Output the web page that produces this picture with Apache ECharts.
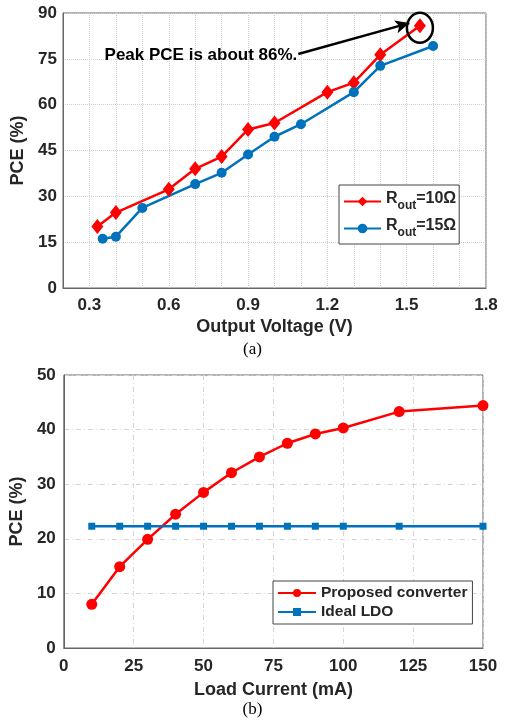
<!DOCTYPE html>
<html><head><meta charset="utf-8">
<script src="https://cdn.jsdelivr.net/npm/echarts@6/dist/echarts.min.js"></script>
<style>html,body{margin:0;padding:0;background:#fff}#c{width:505px;height:723px}</style>
</head><body><div id="c"></div>
<script>
// ---- Data: panel (a) ----
const aX10 = [0.33, 0.4, 0.6, 0.7, 0.8, 0.9, 1.0, 1.2, 1.3, 1.4, 1.55];
const aY10 = [20.1, 24.7, 32.3, 39.0, 43.0, 51.9, 54.0, 64.1, 67.2, 76.3, 85.8];
const aX15 = [0.35, 0.4, 0.5, 0.7, 0.8, 0.9, 1.0, 1.1, 1.3, 1.4, 1.6];
const aY15 = [16.1, 16.8, 26.2, 34.0, 37.7, 43.7, 49.5, 53.6, 64.1, 72.7, 79.2];
const aLegend = ['R_out=10Ω', 'R_out=15Ω'];
const aNote = 'Peak PCE is about 86%.';
const aArrowFrom = [1.09, 76.6];
const aArrowTo = [1.51, 86.7];
// ---- Data: panel (b) ----
const bX = [10, 20, 30, 40, 50, 60, 70, 80, 90, 100, 120, 150];
const bConv = [8.0, 14.9, 19.9, 24.5, 28.5, 32.1, 35.0, 37.5, 39.2, 40.3, 43.3, 44.4];
const bLDO = [22.3, 22.3, 22.3, 22.3, 22.3, 22.3, 22.3, 22.3, 22.3, 22.3, 22.3, 22.3];
const bLegend = ['Proposed converter', 'Ideal LDO'];

const RED = '#ff0000', BLUE = '#0072bd';
const FONT = 'Liberation Sans, Arial, sans-serif';
const TXT = '#262626';
const pair = (xs, ys) => xs.map((x, i) => [x, ys[i]]);

const chart = echarts.init(document.getElementById('c'), null, {renderer: 'canvas'});

const labelStyle = {color: TXT, fontFamily: FONT, fontWeight: 'bold', fontSize: 17};
const nameStyle = {color: TXT, fontFamily: FONT, fontWeight: 'bold', fontSize: 18};

const option = {
  animation: false,
  backgroundColor: '#fff',
  grid: [
    {left: 63, top: 13, width: 423, height: 275, show: true, borderColor: '#666', borderWidth: 1, backgroundColor: '#fff'},
    {left: 63, top: 375, width: 420, height: 273, show: true, borderColor: '#666', borderWidth: 1, backgroundColor: '#fff'}
  ],
  xAxis: [
    {gridIndex: 0, type: 'value', min: 0.2, max: 1.8, interval: 0.1,
      name: 'Output Voltage (V)', nameLocation: 'middle', nameGap: 30, nameTextStyle: nameStyle,
      axisLine: {show: true, lineStyle: {color: '#666'}}, axisTick: {show: false},
      axisLabel: Object.assign({margin: 9, formatter: v => {const n = Math.round(v * 10); return n % 3 === 0 ? (n / 10).toFixed(1) : '';}}, labelStyle),
      splitLine: {show: true, lineStyle: {color: '#cfcfcf', type: 'dotted', width: 1}}},
    {gridIndex: 1, type: 'value', min: 0, max: 150, interval: 25,
      name: 'Load Current (mA)', nameLocation: 'middle', nameGap: 33, nameTextStyle: nameStyle,
      axisLine: {show: true, lineStyle: {color: '#666'}}, axisTick: {show: false},
      axisLabel: Object.assign({margin: 10}, labelStyle),
      splitLine: {show: true, lineStyle: {color: '#d6d6d6', type: [5, 3, 1, 3], width: 1}}}
  ],
  yAxis: [
    {gridIndex: 0, type: 'value', min: 0, max: 90, interval: 15,
      name: 'PCE (%)', nameLocation: 'middle', nameGap: 32, nameTextStyle: nameStyle,
      axisLine: {show: true, lineStyle: {color: '#666'}}, axisTick: {show: false},
      axisLabel: Object.assign({margin: 6}, labelStyle),
      splitLine: {show: true, lineStyle: {color: '#cfcfcf', type: 'dotted', width: 1}}},
    {gridIndex: 1, type: 'value', min: 0, max: 50, interval: 10,
      name: 'PCE (%)', nameLocation: 'middle', nameGap: 33, nameTextStyle: nameStyle,
      axisLine: {show: true, lineStyle: {color: '#666'}}, axisTick: {show: false},
      axisLabel: Object.assign({margin: 8}, labelStyle),
      splitLine: {show: true, lineStyle: {color: '#d6d6d6', type: [5, 3, 1, 3], width: 1}}}
  ],
  legend: [
    {data: aLegend, orient: 'vertical', left: 339, top: 185, width: 117,
      backgroundColor: '#fff', borderColor: '#444', borderWidth: 1, padding: [5, 3, 5, 4],
      itemWidth: 37, itemHeight: 12, itemGap: 5,
      formatter: n => { const p = n.split('_'); const q = p[1].split('='); return '{a|' + p[0] + '}{s|' + q[0] + '}{a|=' + q[1] + '}'; },
      textStyle: {color: TXT, fontFamily: FONT, fontWeight: 'bold', fontSize: 16,
        rich: {a: {fontFamily: FONT, fontWeight: 'bold', fontSize: 16, color: TXT, verticalAlign: 'top', lineHeight: 21},
               s: {fontFamily: FONT, fontWeight: 'bold', fontSize: 12, color: TXT, verticalAlign: 'bottom', lineHeight: 21, padding: [10, 0, 0, 0]}}}},
    {data: bLegend, orient: 'vertical', left: 273, top: 581, width: 192,
      backgroundColor: '#fff', borderColor: '#444', borderWidth: 1, padding: [3, 5, 3, 4],
      itemWidth: 38, itemHeight: 10, itemGap: 1,
      textStyle: {color: TXT, fontFamily: FONT, fontWeight: 'bold', fontSize: 15.5, lineHeight: 18}}
  ],
  title: [
    {text: '(a)', left: 'center', top: 341, textStyle: {fontFamily: 'Liberation Serif, Times New Roman, serif', fontWeight: 'normal', fontSize: 17, color: '#000'}, padding: 0},
    {text: '(b)', left: 'center', top: 701, textStyle: {fontFamily: 'Liberation Serif, Times New Roman, serif', fontWeight: 'normal', fontSize: 17, color: '#000'}, padding: 0}
  ],
  series: [
    {name: aLegend[0], type: 'line', xAxisIndex: 0, yAxisIndex: 0, data: pair(aX10, aY10),
      symbol: 'diamond', symbolSize: [12, 15], itemStyle: {color: RED}, lineStyle: {color: RED, width: 2.5},
      markLine: {silent: true, symbol: ['none', 'arrow'], symbolSize: [10, 14], label: {show: false},
        lineStyle: {color: '#000', width: 2.5, type: 'solid'},
        data: [[{coord: aArrowFrom}, {coord: aArrowTo}]]}},
    {name: aLegend[1], type: 'line', xAxisIndex: 0, yAxisIndex: 0, data: pair(aX15, aY15),
      symbol: 'circle', symbolSize: 10, itemStyle: {color: BLUE}, lineStyle: {color: BLUE, width: 2.5}},
    {name: bLegend[0], type: 'line', xAxisIndex: 1, yAxisIndex: 1, data: pair(bX, bConv),
      symbol: 'circle', symbolSize: 11, itemStyle: {color: RED}, lineStyle: {color: RED, width: 2.5}},
    {name: bLegend[1], type: 'line', xAxisIndex: 1, yAxisIndex: 1, data: pair(bX, bLDO),
      symbol: 'rect', symbolSize: 7, itemStyle: {color: BLUE}, lineStyle: {color: BLUE, width: 2.5}}
  ]
};
chart.setOption(option);

// annotation text and ellipse placed from data coordinates
const peak = [aX10[aX10.length - 1], aY10[aY10.length - 1]];
const pPeak = chart.convertToPixel({xAxisIndex: 0, yAxisIndex: 0}, peak);
const pFrom = chart.convertToPixel({xAxisIndex: 0, yAxisIndex: 0}, aArrowFrom);
chart.setOption({
  graphic: [
    {type: 'ellipse', shape: {cx: pPeak[0], cy: pPeak[1] + 2, rx: 13, ry: 15},
      style: {fill: 'none', stroke: '#000', lineWidth: 2.5}, z: 100},
    {type: 'text', x: pFrom[0] - 1, y: pFrom[1] + 1, z: 100,
      style: {text: aNote, fill: '#000', font: 'bold 17px ' + FONT, textAlign: 'right', textVerticalAlign: 'middle'}}
  ]
});
</script></body></html>
